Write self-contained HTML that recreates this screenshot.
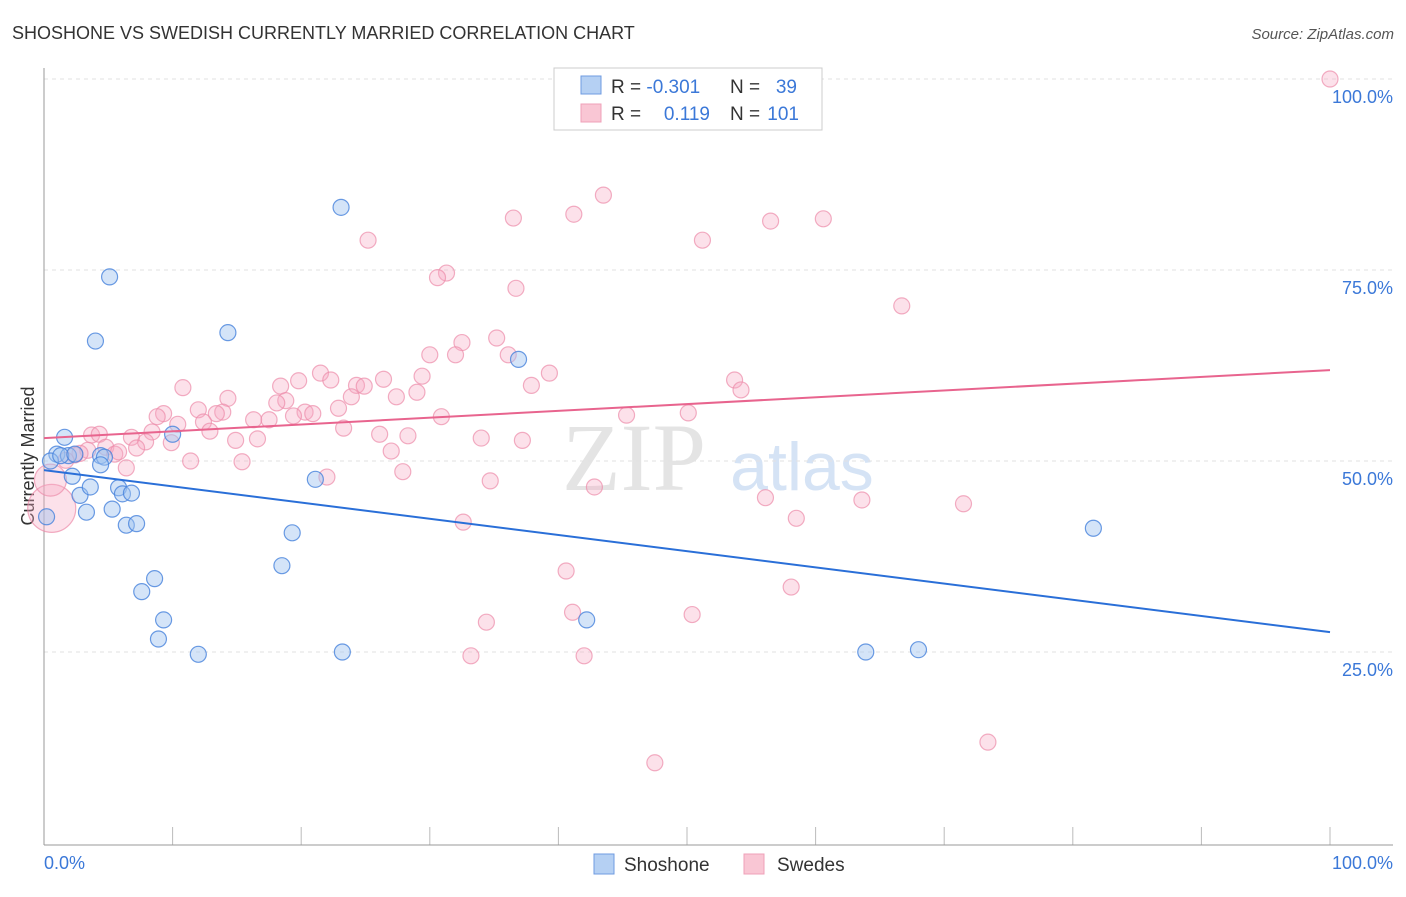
<!DOCTYPE html>
<html><head><meta charset="utf-8"><style>
body{margin:0;background:#fff;font-family:"Liberation Sans",sans-serif;}
</style></head><body>
<svg id="c" width="1406" height="892" xmlns="http://www.w3.org/2000/svg">
<text x="12" y="39" font-size="18" fill="#333">SHOSHONE VS SWEDISH CURRENTLY MARRIED CORRELATION CHART</text>
<text x="1394" y="39" font-size="15" fill="#555" font-style="italic" text-anchor="end">Source: ZipAtlas.com</text>
<text x="634" y="490" font-size="96" fill="#e4e4e4" font-family="Liberation Serif,serif" text-anchor="middle">ZIP</text>
<text x="802" y="490" font-size="68" fill="#d5e3f5" text-anchor="middle">atlas</text>
<g id="grid"></g>
<line x1="44" y1="68" x2="44" y2="845" stroke="#999"/>
<line x1="44" y1="845" x2="1393" y2="845" stroke="#999"/>
<text transform="translate(34,456) rotate(-90)" font-size="18" fill="#333" text-anchor="middle">Currently Married</text>
<text x="44" y="869" font-size="18" fill="#3b78d8">0.0%</text>
<text x="1393" y="869" font-size="18" fill="#3b78d8" text-anchor="end">100.0%</text>
<g id="marks"></g>
<g>
<rect x="554" y="68" width="268" height="62" fill="#fff" stroke="#ccc"/>
<rect x="581" y="76" width="20" height="18" fill="#b5d0f3" stroke="#6f9be0"/>
<rect x="581" y="104" width="20" height="18" fill="#f9c6d4" stroke="#efa0b8"/>
<text x="611" y="93" font-size="19" fill="#333">R = <tspan fill="#3b78d8">-0.301</tspan></text>
<text x="730" y="93" font-size="19" fill="#333">N = </text><text x="797" y="93" font-size="19" fill="#3b78d8" text-anchor="end">39</text>
<text x="611" y="120" font-size="19" fill="#333">R = </text><text x="710" y="120" font-size="19" fill="#3b78d8" text-anchor="end">0.119</text>
<text x="730" y="120" font-size="19" fill="#333">N = </text><text x="799" y="120" font-size="19" fill="#3b78d8" text-anchor="end">101</text>
</g>
<g>
<rect x="594" y="854" width="20" height="20" fill="#b5d0f3" stroke="#6f9be0"/>
<text x="624" y="871" font-size="19" fill="#333">Shoshone</text>
<rect x="744" y="854" width="20" height="20" fill="#f9c6d4" stroke="#efa0b8"/>
<text x="777" y="871" font-size="19" fill="#333">Swedes</text>
</g>
</svg>
<script>
const yTicks=[100,75,50,25];
const yTickLabels=["100.0%","75.0%","50.0%","25.0%"];
const xTicks=[0,10,20,30,40,50,60,70,80,90,100];
const blueX=[23.1,5.1,4.0,14.3,36.9,1.6,1.0,1.9,4.4,4.7,0.5,2.2,4.4,10.0,21.1,2.8,3.6,5.8,6.1,6.8,3.3,5.3,6.4,7.2,19.3,8.6,7.6,18.5,9.3,8.9,12.0,23.2,42.2,63.9,68.0,81.6,0.2,1.3,2.4];
const blueY=[83.2,74.1,65.7,66.8,63.3,53.1,50.9,50.7,50.7,50.5,50.0,48.0,49.5,53.5,47.6,45.5,46.6,46.5,45.7,45.8,43.3,43.7,41.6,41.8,40.6,34.6,32.9,36.3,29.2,26.7,24.7,25.0,29.2,25.0,25.3,41.2,42.7,50.7,50.9];
const pinkX=[100,46.8,43.5,41.2,36.5,56.5,60.6,25.2,51.2,31.3,30.6,36.7,66.7,35.2,32.5,30.0,32.0,36.1,21.5,39.3,29.4,53.7,19.8,22.3,26.4,24.3,18.4,24.9,10.8,37.9,54.2,29.0,23.9,27.4,14.3,18.8,18.1,22.9,12.0,20.3,20.9,13.9,9.3,13.4,45.3,50.1,19.4,30.9,16.3,17.5,8.8,10.4,12.4,12.9,8.4,23.3,26.1,28.3,34.0,37.2,3.7,4.3,6.8,14.9,16.6,7.9,9.9,7.2,4.8,3.4,5.5,5.8,2.8,2.4,27.0,15.4,11.4,1.7,6.4,27.9,22.0,34.7,42.8,56.1,63.6,71.5,58.5,32.6,40.6,58.1,41.1,50.4,34.4,33.2,42.0,47.5,73.4,0.6,0.5];
const pinkY=[100,100,84.8,82.3,81.8,81.4,81.7,78.9,78.9,74.6,74.0,72.6,70.3,66.1,65.5,63.9,63.9,63.9,61.5,61.5,61.1,60.6,60.5,60.6,60.7,59.9,59.8,59.8,59.6,59.9,59.3,59.0,58.4,58.4,58.2,57.9,57.6,56.9,56.7,56.4,56.2,56.4,56.2,56.2,56.0,56.3,55.9,55.8,55.4,55.4,55.8,54.8,55.1,53.9,53.8,54.3,53.5,53.3,53.0,52.7,53.4,53.5,53.1,52.7,52.9,52.5,52.4,51.7,51.8,51.4,50.9,51.2,51.0,50.8,51.3,49.9,50.0,50.1,49.1,48.6,47.9,47.4,46.6,45.2,44.9,44.4,42.5,42.0,35.6,33.5,30.2,29.9,28.9,24.5,24.5,10.5,13.2,43.8,47.5];
const pinkSize=pinkX.map((v,i)=>i===pinkX.length-2?3:(i===pinkX.length-1?2:1));
const blueTrend=[48.8,27.6];
const pinkTrend=[53.0,61.9];
const NS="http://www.w3.org/2000/svg";
const sx=v=>44+v*12.86;
const sy=v=>79+(100-v)*7.64;
function mk(tag,attrs,parent){const e=document.createElementNS(NS,tag);for(const k in attrs)e.setAttribute(k,attrs[k]);parent.appendChild(e);return e;}
const grid=document.getElementById('grid'),marks=document.getElementById('marks');
yTicks.forEach((t,i)=>{
 const l=mk('line',{x1:44,x2:1393,y1:sy(t),y2:sy(t),stroke:'#e2e2e2','stroke-dasharray':'4,4'},grid);
 
 
 const tx=mk('text',{x:1393,y:sy(t)+24,'font-size':18,fill:'#3b78d8','text-anchor':'end'},grid);
 tx.textContent=yTickLabels[i];
 
 
});
xTicks.forEach(t=>{
 const l=mk('line',{x1:sx(t),x2:sx(t),y1:827,y2:845,stroke:'#bbb'},grid);
 
 
});
pinkX.forEach((x,i)=>{
 const c=mk('circle',{cx:sx(x),cy:sy(pinkY[i]),r:8*pinkSize[i],fill:'rgba(246,170,195,0.35)',stroke:'rgba(236,140,170,0.7)','stroke-width':1.2},marks);
 
 
});
blueX.forEach((x,i)=>{
 const c=mk('circle',{cx:sx(x),cy:sy(blueY[i]),r:8,fill:'rgba(160,195,240,0.45)',stroke:'rgba(70,130,220,0.8)','stroke-width':1.2},marks);
 
 
});
const bl=mk('line',{x1:sx(0),x2:sx(100),y1:sy(blueTrend[0]),y2:sy(blueTrend[1]),stroke:'#2a6fd8','stroke-width':2},marks);


const pl=mk('line',{x1:sx(0),x2:sx(100),y1:sy(pinkTrend[0]),y2:sy(pinkTrend[1]),stroke:'#e8648e','stroke-width':2},marks);


</script>
</body></html>
